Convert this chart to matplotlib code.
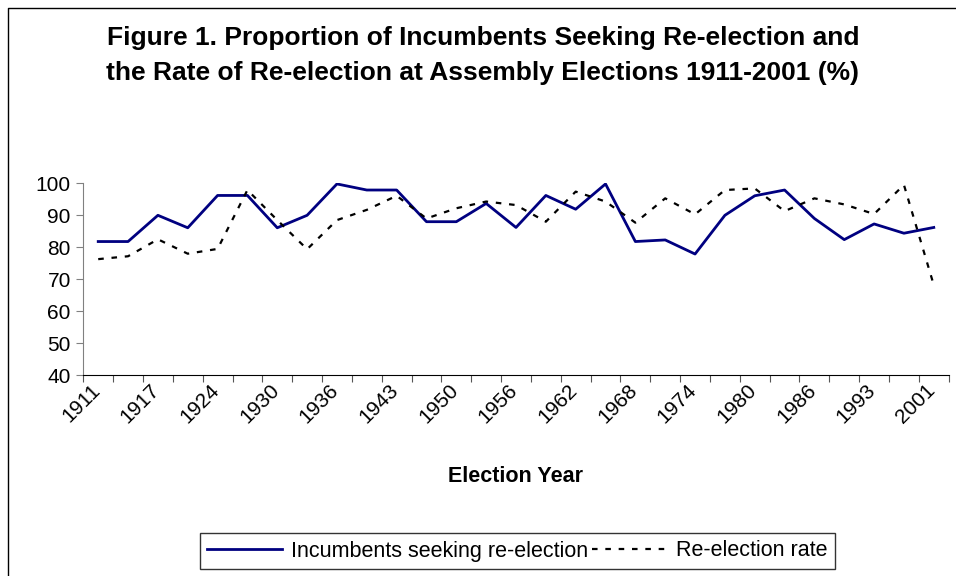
import matplotlib
matplotlib.use("Agg")
import matplotlib.pyplot as plt
from matplotlib.lines import Line2D
from matplotlib.transforms import ScaledTranslation

plt.rcParams['font.family'] = ['Liberation Sans', 'DejaVu Sans']

# election years (every other one is labelled on the axis)
years = [1911, 1914, 1917, 1921, 1924, 1927, 1930, 1933, 1936, 1940,
         1943, 1947, 1950, 1953, 1956, 1959, 1962, 1965, 1968, 1971,
         1974, 1977, 1980, 1983, 1986, 1989, 1993, 1997, 2001]

# % of incumbents seeking re-election
seeking = [81.8, 81.8, 90.0, 86.1, 96.2, 96.2, 86.1, 90.0, 99.8, 97.9,
           97.9, 88.0, 88.0, 93.7, 86.2, 96.2, 91.9, 99.8, 81.8, 82.3,
           77.9, 90.0, 96.1, 97.9, 89.0, 82.4, 87.3, 84.4, 86.2]

# re-election rate %
reelected = [76.3, 77.2, 82.5, 78.0, 79.5, 97.9, 88.5, 79.4, 88.5, 91.7,
             96.1, 89.0, 92.2, 94.3, 93.2, 88.0, 97.4, 94.3, 87.7, 95.3,
             90.3, 97.9, 98.4, 91.3, 95.3, 93.4, 90.4, 99.5, 68.2]

W, H = 956, 576
fig = plt.figure(figsize=(W / 100, H / 100), dpi=100)

# chart area border (only left and top edges are visible in the crop)
fig.add_artist(Line2D([8 / W, 8 / W, 1], [0, 1 - 8 / H, 1 - 8 / H],
                      transform=fig.transFigure, color='black', lw=1))

ax = fig.add_axes([83.3 / W, 1 - 375.3 / H, (948.7 - 83.3) / W, (375.3 - 183.3) / H])

x = list(range(len(years)))
ax.plot(x, seeking, color='#000080', lw=2, label='Incumbents seeking re-election')
ax.plot(x, reelected, color='black', lw=1.6, linestyle=(0, (2.5, 3.5)),
        label='Re-election rate')

ax.set_xlim(-0.5, len(years) - 0.5)
ax.set_ylim(40, 100)
ax.set_yticks(range(40, 101, 10))

# tick marks between categories, labels on every other category
ax.set_xticks([i - 0.5 for i in range(len(years) + 1)])
ax.set_xticklabels([])
ax.set_xticks(x[::2], minor=True)
ax.set_xticklabels([str(y) for y in years[::2]], minor=True,
                   rotation=45, ha='right', rotation_mode='anchor')
ax.tick_params(axis='x', which='major', length=5, direction='out', color='#555555')
ax.tick_params(axis='x', which='minor', length=0, pad=4, labelsize=15)
ax.tick_params(axis='y', length=5, direction='out', color='#808080', labelsize=15, pad=4)
shift = ScaledTranslation(-8 / 100, 0, fig.dpi_scale_trans)
for lbl in ax.get_xticklabels(minor=True):
    lbl.set_transform(lbl.get_transform() + shift)

ax.spines['top'].set_visible(False)
ax.spines['right'].set_visible(False)
ax.spines['left'].set_color('#808080')
ax.spines['bottom'].set_color('black')

ax.set_xlabel('Election Year', fontsize=15.5, fontweight='bold')
ax.xaxis.label.set_va('center')
ax.xaxis.set_label_coords(0.5, (375.3 - 476) / (375.3 - 183.3))

fig.text(0.505, 1 - 38 / H,
         'Figure 1. Proportion of Incumbents Seeking Re-election and',
         ha='center', va='center', fontsize=19, fontweight='bold')
fig.text(0.505, 1 - 73 / H,
         'the Rate of Re-election at Assembly Elections 1911-2001 (%)',
         ha='center', va='center', fontsize=19, fontweight='bold')

leg = ax.legend(loc='center', bbox_to_anchor=(517.5 / W, 1 - 551 / H),
                bbox_transform=fig.transFigure, ncol=2, fontsize=15.5,
                frameon=True, fancybox=False, edgecolor='black',
                handlelength=3.5, handletextpad=0.4, columnspacing=0.2,
                borderpad=0.35)
leg.get_frame().set_linewidth(1)

fig.savefig('out.png', dpi=100)
